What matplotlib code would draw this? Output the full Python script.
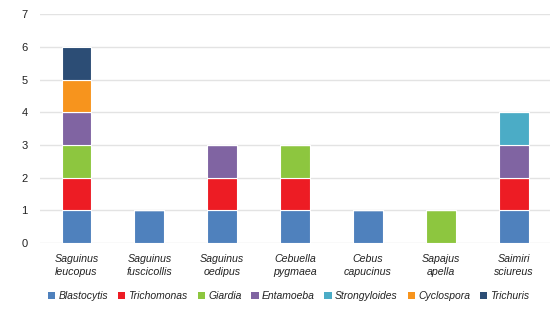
import matplotlib
matplotlib.use("Agg")
import matplotlib.pyplot as plt
import numpy as np
from matplotlib.patches import Patch

categories = ["Saguinus\nleucopus", "Saguinus\nfuscicollis", "Saguinus\noedipus",
              "Cebuella\npygmaea", "Cebus\ncapucinus", "Sapajus\napella", "Saimiri\nsciureus"]
series_names = ["Blastocytis", "Trichomonas", "Giardia", "Entamoeba",
                "Strongyloides", "Cyclospora", "Trichuris"]
blastocytis   = [1, 1, 1, 1, 1, 0, 1]
trichomonas   = [1, 0, 1, 1, 0, 0, 1]
giardia       = [1, 0, 0, 1, 0, 1, 0]
entamoeba     = [1, 0, 1, 0, 0, 0, 1]
strongyloides = [0, 0, 0, 0, 0, 0, 1]
cyclospora    = [1, 0, 0, 0, 0, 0, 0]
trichuris     = [1, 0, 0, 0, 0, 0, 0]
yticks = [0, 1, 2, 3, 4, 5, 6, 7]

colors = ["#4F81BD", "#ED1C24", "#8DC63F", "#8064A2", "#4BACC6", "#F7941D", "#2C4D75"]
data = [blastocytis, trichomonas, giardia, entamoeba, strongyloides, cyclospora, trichuris]

plt.rcParams['font.family'] = ['Liberation Sans', 'DejaVu Sans']
fig = plt.figure(figsize=(5.5, 3.14), dpi=100)
ax = fig.add_axes([0.073, 0.226, 0.927, 0.729])

x = np.arange(len(categories))
bottom = np.zeros(len(categories))
for vals, col, name in zip(data, colors, series_names):
    v = np.array(vals, dtype=float)
    ax.bar(x, v, bottom=bottom, width=0.41, color=col, edgecolor="white",
           linewidth=0.8, label=name, zorder=3)
    bottom += v

ax.set_xlim(-0.5, len(categories) - 0.5)
ax.set_ylim(0, 7)
ax.set_yticks(yticks)
ax.set_yticklabels([str(t) for t in yticks], fontsize=8, color="#222222")
ax.set_xticks(x)
ax.set_xticklabels(categories, fontsize=7.7, style="italic", color="#222222", linespacing=1.4)
ax.tick_params(axis="both", length=0)
ax.tick_params(axis="x", pad=8)
ax.tick_params(axis="y", pad=9)
for s in ax.spines.values():
    s.set_visible(False)
ax.grid(axis="y", color="#E3E3E3", linewidth=1.0, zorder=0)
ax.set_axisbelow(True)

handles = [Patch(facecolor=c, edgecolor="none", label=n) for c, n in zip(colors, series_names)]
leg = fig.legend(handles=handles, loc="center", bbox_to_anchor=(0.525, 0.057), ncol=7,
                 frameon=False, handlelength=0.7, handleheight=0.7,
                 handletextpad=0.3, columnspacing=0.95, prop={"style": "italic", "size": 7.5})
for t in leg.get_texts():
    t.set_color("#222222")

fig.savefig("out.png", dpi=100)
